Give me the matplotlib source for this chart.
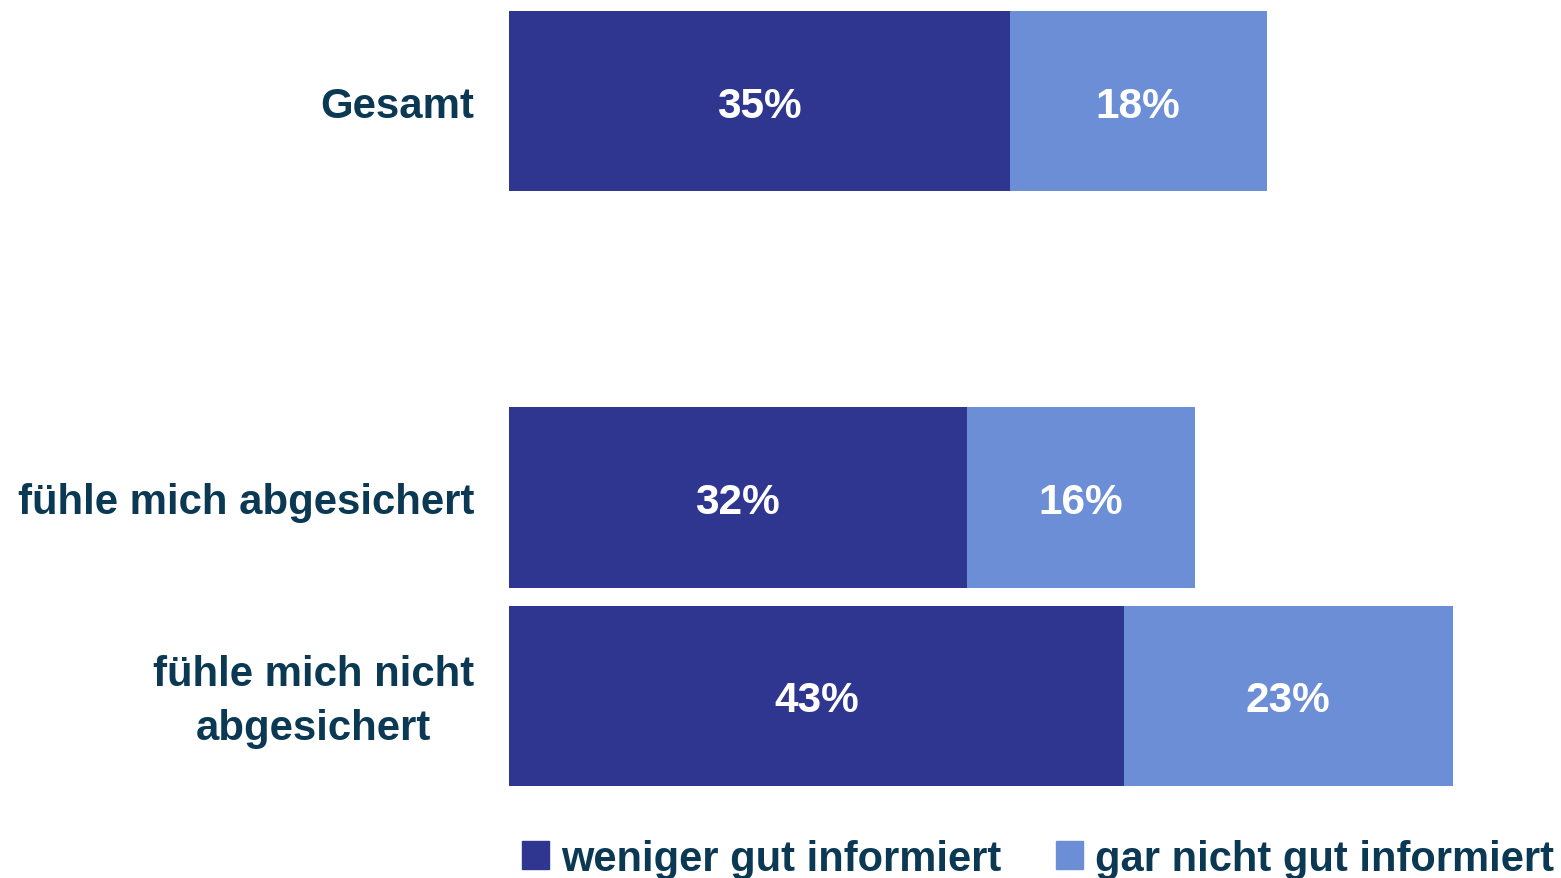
import matplotlib.pyplot as plt
from matplotlib.patches import Patch

categories = ["Gesamt", "fühle mich abgesichert", "fühle mich nicht\nabgesichert"]
positions = [0, 2, 3]
weniger = [35, 32, 43]
gar_nicht = [18, 16, 23]
series_names = ["weniger gut informiert", "gar nicht gut informiert"]

DARK = "#2E3690"
LIGHT = "#6C8ED6"
TEXT = "#0B3954"


def main():
    plt.rcParams["font.family"] = ["Liberation Sans", "DejaVu Sans"]
    plt.rcParams["font.weight"] = "bold"

    fig = plt.figure(figsize=(15.61, 8.79), dpi=100)
    ax = fig.add_axes([509 / 1561, 77 / 879, 1052 / 1561, 801 / 879])

    b1 = ax.barh(positions, weniger, height=0.91, color=DARK)
    b2 = ax.barh(positions, gar_nicht, left=weniger, height=0.91, color=LIGHT)

    for bars, vals in ((b1, weniger), (b2, gar_nicht)):
        labs = ax.bar_label(bars, labels=[f"{v}%" for v in vals], label_type="center",
                            color="white", fontsize=30.5, fontweight="bold")
        for t in labs:
            t.set_va("center_baseline")

    ax.set_xlim(0, 1052 / 14.3)
    ax.set_ylim(3.53, -0.51)

    # category labels, right aligned left of the bars
    for cat, pos in zip(categories, positions):
        if "\n" in cat:
            y, va = pos + 0.025, "center"
        else:
            y, va = pos, "center_baseline"
        ax.text(-35 / 1052, y, cat, transform=ax.get_yaxis_transform(),
                ha="right", va=va, multialignment="center", linespacing=1.45,
                fontsize=30.2, fontweight="bold", color=TEXT)

    ax.set_xticks([])
    ax.set_yticks([])
    for s in ax.spines.values():
        s.set_visible(False)

    handles = [Patch(color=DARK), Patch(color=LIGHT)]
    leg = fig.legend(handles, series_names, loc="center", bbox_to_anchor=(1038 / 1561, 1 - 860 / 879),
                     ncol=2, frameon=False, fontsize=30, handlelength=0.65, handleheight=0.65,
                     handletextpad=0.3, columnspacing=1.3, borderpad=0)
    for t in leg.get_texts():
        t.set_color(TEXT)
        t.set_fontweight("bold")

    plt.savefig("out.png")


if __name__ == "__main__":
    main()
